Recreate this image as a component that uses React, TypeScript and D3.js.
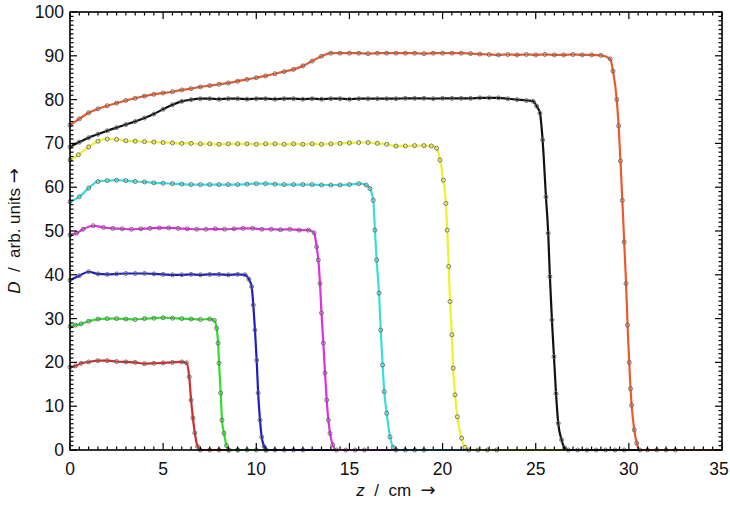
import React from "react";
import * as d3 from "d3";

type Pt = [number, number];

const xDomain: [number, number] = [0, 35];
const yDomain: [number, number] = [0, 100];
const xMajorTicks = [0, 5, 10, 15, 20, 25, 30, 35];
const yMajorTicks = [0, 10, 20, 30, 40, 50, 60, 70, 80, 90, 100];
const xMinorStep = 0.5;
const yMinorStep = 1;

const seriesNames = ["s20", "s30", "s40", "s50", "s60", "s70", "s80", "s90"];
const seriesColors = ["#d42a2a", "#2ee02e", "#1c1cc8", "#e02ee0", "#38dede", "#f0f02a", "#111111", "#ea5a2c"];

const s20: Pt[] = [
  [0, 18.9], [0.3, 19.2], [0.6, 19.8], [1, 20.1], [1.5, 20.4], [2, 20.4], [2.5, 20.2], [3, 20.1],
  [3.5, 20.0], [4, 19.7], [4.5, 19.8], [5, 19.9], [5.5, 20.0], [6, 20.1], [6.25, 19.9],
  [6.4, 16.7], [6.5, 11.4], [6.6, 7.3], [6.7, 3.9], [6.85, 0.8], [7.0, 0], [7.5, 0], [8, 0], [8.5, 0], [9, 0],
];
const s30: Pt[] = [
  [0, 28.2], [0.3, 28.5], [0.6, 28.8], [1, 29.4], [1.5, 29.9], [2, 30.0], [2.5, 30.0], [3, 29.9],
  [3.5, 29.8], [4, 30.0], [4.5, 30.1], [5, 30.2], [5.5, 30.1], [6, 30.0], [6.5, 29.9], [7, 29.8],
  [7.5, 29.9], [7.75, 29.6], [7.87, 27.8], [7.95, 24.4], [8.0, 19.8], [8.09, 13], [8.16, 6.8],
  [8.27, 3.8], [8.4, 1], [8.55, 0], [9, 0], [9.5, 0], [10, 0], [10.5, 0],
];
const s40: Pt[] = [
  [0, 38.8], [0.5, 39.8], [1, 40.7], [1.5, 40.2], [2, 40.1], [2.5, 40.2], [3, 40.3], [3.5, 40.3],
  [4, 40.3], [4.5, 40.2], [5, 40.1], [5.5, 40.0], [6, 40.0], [6.5, 40.1], [7, 40.0], [7.5, 40.1],
  [8, 40.1], [8.5, 40.0], [9, 40.1], [9.4, 40.0], [9.6, 39.0], [9.75, 37.3], [9.84, 33.1],
  [9.93, 27.4], [10.02, 20.5], [10.1, 13], [10.2, 6.8], [10.29, 3], [10.42, 0.8], [10.55, 0],
  [11, 0], [11.5, 0], [12, 0], [12.5, 0],
];
const s50: Pt[] = [
  [0, 49.1], [0.35, 49.5], [0.7, 50.4], [1.25, 51.2], [1.8, 50.8], [2.3, 50.6], [2.8, 50.5],
  [3.3, 50.4], [3.8, 50.5], [4.3, 50.6], [4.8, 50.7], [5.3, 50.7], [5.8, 50.6], [6.3, 50.5],
  [6.8, 50.4], [7.3, 50.4], [7.8, 50.5], [8.3, 50.4], [8.8, 50.5], [9.3, 50.6], [9.8, 50.6],
  [10.3, 50.4], [10.8, 50.4], [11.3, 50.3], [11.8, 50.4], [12.3, 50.2], [12.8, 50.2], [13.1, 49.6],
  [13.24, 46.4], [13.33, 43.4], [13.42, 38], [13.5, 31.3], [13.6, 24.4], [13.69, 17.6],
  [13.78, 11.4], [13.87, 6.8], [13.96, 3.8], [14.1, 1.2], [14.3, 0], [14.8, 0], [15.3, 0], [15.8, 0],
];
const s60: Pt[] = [
  [0, 56.7], [0.5, 57.8], [1, 59.8], [1.5, 61.3], [2, 61.5], [2.5, 61.6], [3, 61.5], [3.5, 61.3],
  [4, 61.2], [4.5, 61.0], [5, 60.9], [5.5, 60.8], [6, 60.7], [6.5, 60.6], [7, 60.6], [7.5, 60.6],
  [8, 60.6], [8.5, 60.6], [9, 60.6], [9.5, 60.7], [10, 60.8], [10.5, 60.8], [11, 60.7], [11.5, 60.6],
  [12, 60.6], [12.5, 60.6], [13, 60.6], [13.5, 60.5], [14, 60.5], [14.5, 60.5], [15, 60.6],
  [15.5, 60.8], [15.9, 60.5], [16.1, 59.7], [16.28, 57], [16.37, 50.2], [16.46, 43.4],
  [16.59, 35.8], [16.68, 27.4], [16.78, 19.4], [16.87, 13.3], [17.0, 8.4], [17.18, 3],
  [17.35, 0.6], [17.5, 0], [18, 0], [18.5, 0], [19, 0],
];
const s70: Pt[] = [
  [0, 66.2], [0.45, 67.4], [1, 69.2], [1.5, 70.5], [2, 71.0], [2.5, 70.9], [3, 70.6], [3.5, 70.5],
  [4, 70.4], [4.5, 70.3], [5, 70.2], [5.5, 70.1], [6, 70.0], [6.5, 70.0], [7, 69.9], [7.5, 69.9],
  [8, 69.8], [8.5, 69.9], [9, 69.9], [9.5, 69.9], [10, 69.8], [10.5, 69.9], [11, 69.9], [11.5, 69.8],
  [12, 69.9], [12.5, 69.8], [13, 69.9], [13.5, 69.8], [14, 69.9], [14.5, 70.0], [15, 70.1],
  [15.5, 70.2], [16, 70.2], [16.5, 70.0], [17, 69.8], [17.5, 69.4], [18, 69.4], [18.5, 69.5],
  [19, 69.5], [19.4, 69.4], [19.68, 68.9], [19.86, 66.2], [20.04, 61.6], [20.18, 56.3],
  [20.25, 50.2], [20.33, 41.9], [20.4, 33.9], [20.5, 26.3], [20.57, 18.7], [20.67, 12.6],
  [20.79, 7.6], [21.02, 2.7], [21.2, 0.6], [21.4, 0], [21.9, 0], [22.4, 0], [22.9, 0],
];
const s80: Pt[] = [
  [0, 69.2], [0.5, 70.3], [1, 71.3], [1.5, 72.1], [2, 72.9], [2.5, 73.6], [3, 74.3], [3.5, 75.0],
  [4, 75.8], [4.5, 76.7], [5, 77.8], [5.5, 78.8], [6, 79.6], [6.5, 80.0], [7, 80.2], [7.5, 80.2],
  [8, 80.1], [8.5, 80.2], [9, 80.2], [9.5, 80.1], [10, 80.2], [10.5, 80.2], [11, 80.1], [11.5, 80.2],
  [12, 80.2], [12.5, 80.1], [13, 80.2], [13.5, 80.1], [14, 80.2], [14.5, 80.2], [15, 80.1],
  [15.5, 80.2], [16, 80.2], [16.5, 80.2], [17, 80.2], [17.5, 80.2], [18, 80.3], [18.5, 80.3],
  [19, 80.3], [19.5, 80.2], [20, 80.3], [20.5, 80.3], [21, 80.3], [21.5, 80.3], [22, 80.4],
  [22.5, 80.4], [23, 80.4], [23.5, 80.2], [24, 80.0], [24.5, 79.8], [24.87, 79.6], [25.05, 78.5],
  [25.23, 76.9], [25.37, 70.8], [25.55, 57.8], [25.67, 49.5], [25.76, 39.6], [25.87, 29.7],
  [25.98, 21.3], [26.09, 12.9], [26.21, 6.1], [26.39, 2.3], [26.55, 0.5], [26.75, 0], [27.25, 0],
  [27.75, 0], [28.25, 0], [28.75, 0], [29.25, 0], [29.75, 0],
];
const s90: Pt[] = [
  [0, 74.2], [0.5, 75.6], [1, 77.0], [1.5, 77.9], [2, 78.6], [2.5, 79.2], [3, 79.8], [3.5, 80.3],
  [4, 80.8], [4.5, 81.2], [5, 81.5], [5.5, 81.8], [6, 82.2], [6.5, 82.5], [7, 82.9], [7.5, 83.2],
  [8, 83.5], [8.5, 83.8], [9, 84.2], [9.5, 84.6], [10, 85.0], [10.5, 85.4], [11, 85.9], [11.5, 86.4],
  [12, 86.9], [12.5, 87.7], [13, 88.8], [13.5, 89.9], [14, 90.6], [14.5, 90.6], [15, 90.6],
  [15.5, 90.6], [16, 90.5], [16.5, 90.6], [17, 90.6], [17.5, 90.6], [18, 90.6], [18.5, 90.6],
  [19, 90.5], [19.5, 90.6], [20, 90.6], [20.5, 90.6], [21, 90.6], [21.5, 90.5], [22, 90.4],
  [22.5, 90.3], [23, 90.2], [23.5, 90.3], [24, 90.2], [24.5, 90.3], [25, 90.2], [25.5, 90.3],
  [26, 90.2], [26.5, 90.2], [27, 90.3], [27.5, 90.2], [28, 90.2], [28.5, 90.1], [29.0, 89.3],
  [29.15, 86.5], [29.35, 80], [29.45, 74], [29.55, 66], [29.65, 57], [29.75, 47.5], [29.85, 38],
  [29.93, 28.5], [30.02, 20], [30.09, 14], [30.15, 10.2], [30.29, 4.6], [30.42, 1.6], [30.6, 0],
  [31, 0], [31.5, 0], [32, 0], [32.5, 0],
];

const seriesData: Pt[][] = [s20, s30, s40, s50, s60, s70, s80, s90];

const xLabelItalic = "z";
const xLabelRest = "  /  cm  ";
const yLabelItalic = "D";
const yLabelRest = "  /  arb. units ";
const arrow = "\u2192";

const W = 730;
const H = 508;
const margin = { left: 70, right: 8, top: 12, bottom: 58 };
const font = "'Liberation Sans', Arial, Helvetica, sans-serif";

export default function App() {
  const x = d3.scaleLinear().domain(xDomain).range([margin.left, W - margin.right]);
  const y = d3.scaleLinear().domain(yDomain).range([H - margin.bottom, margin.top]);
  const x0 = x(xDomain[0]);
  const x1 = x(xDomain[1]);
  const y0 = y(yDomain[0]);
  const y1 = y(yDomain[1]);

  const line = d3
    .line<Pt>()
    .x((d) => x(d[0]))
    .y((d) => y(d[1]))
    .curve(d3.curveMonotoneX);

  const xMinor = d3.range(xDomain[0], xDomain[1] + 1e-9, xMinorStep);
  const yMinor = d3.range(yDomain[0], yDomain[1] + 1e-9, yMinorStep);
  const isXMajor = (v: number) => xMajorTicks.some((t) => Math.abs(t - v) < 1e-6);
  const isYMajor = (v: number) => yMajorTicks.some((t) => Math.abs(t - v) < 1e-6);

  const majorLen = 7;
  const minorLen = 3.5;

  return (
    <svg width={W} height={H} style={{ position: "absolute", left: 0, top: 0, background: "#fff" }}>
      <rect x={0} y={0} width={W} height={H} fill="#fff" />
      {seriesData.map((data, i) => {
        const last = data[data.length - 1];
        const lineData: Pt[] = last[1] === 0 ? [...data, [xDomain[1], 0]] : data;
        return (
          <g key={seriesNames[i]}>
            <path d={line(lineData) || ""} fill="none" stroke={seriesColors[i]} strokeWidth={2.2} strokeLinejoin="round" />
            {data.map((d, j) => (
              <circle key={j} cx={x(d[0])} cy={y(d[1])} r={2} fill="none" stroke="#666" strokeWidth={0.9} />
            ))}
          </g>
        );
      })}
      <g stroke="#000" strokeWidth={1.2}>
        {xMinor.map((v) => {
          const len = isXMajor(v) ? majorLen : minorLen;
          return (
            <g key={"x" + v}>
              <line x1={x(v)} x2={x(v)} y1={y0} y2={y0 - len} />
              <line x1={x(v)} x2={x(v)} y1={y1} y2={y1 + len} />
            </g>
          );
        })}
        {yMinor.map((v) => {
          const len = isYMajor(v) ? majorLen : minorLen;
          return (
            <g key={"y" + v}>
              <line x1={x0} x2={x0 + len} y1={y(v)} y2={y(v)} />
              <line x1={x1} x2={x1 - len} y1={y(v)} y2={y(v)} />
            </g>
          );
        })}
      </g>
      <rect x={x0} y={y1} width={x1 - x0} height={y0 - y1} fill="none" stroke="#000" strokeWidth={1.6} />
      <g fontFamily={font} fontSize={17.5} fill="#111">
        {xMajorTicks.map((v) => (
          <text key={"xl" + v} x={Math.min(x(v), W - 11)} y={y0 + 25} textAnchor="middle">
            {String(v)}
          </text>
        ))}
        {yMajorTicks.map((v) => (
          <text key={"yl" + v} x={x0 - 6} y={y(v)} textAnchor="end" dominantBaseline="central">
            {String(v)}
          </text>
        ))}
      </g>
      <text x={(x0 + x1) / 2} y={H - 12} textAnchor="middle" fontFamily={font} fontSize={17} fill="#111" xmlSpace="preserve">
        <tspan fontStyle="italic">{xLabelItalic}</tspan>
        <tspan>{xLabelRest}</tspan>
        <tspan fontFamily="'DejaVu Sans', sans-serif" fontSize={18}>{arrow}</tspan>
      </text>
      <text
        transform={`translate(20, ${(y0 + y1) / 2}) rotate(-90)`}
        textAnchor="middle"
        fontFamily={font}
        fontSize={17}
        fill="#111"
        xmlSpace="preserve"
      >
        <tspan fontStyle="italic">{yLabelItalic}</tspan>
        <tspan>{yLabelRest}</tspan>
        <tspan fontFamily="'DejaVu Sans', sans-serif" fontSize={18}>{arrow}</tspan>
      </text>
    </svg>
  );
}
